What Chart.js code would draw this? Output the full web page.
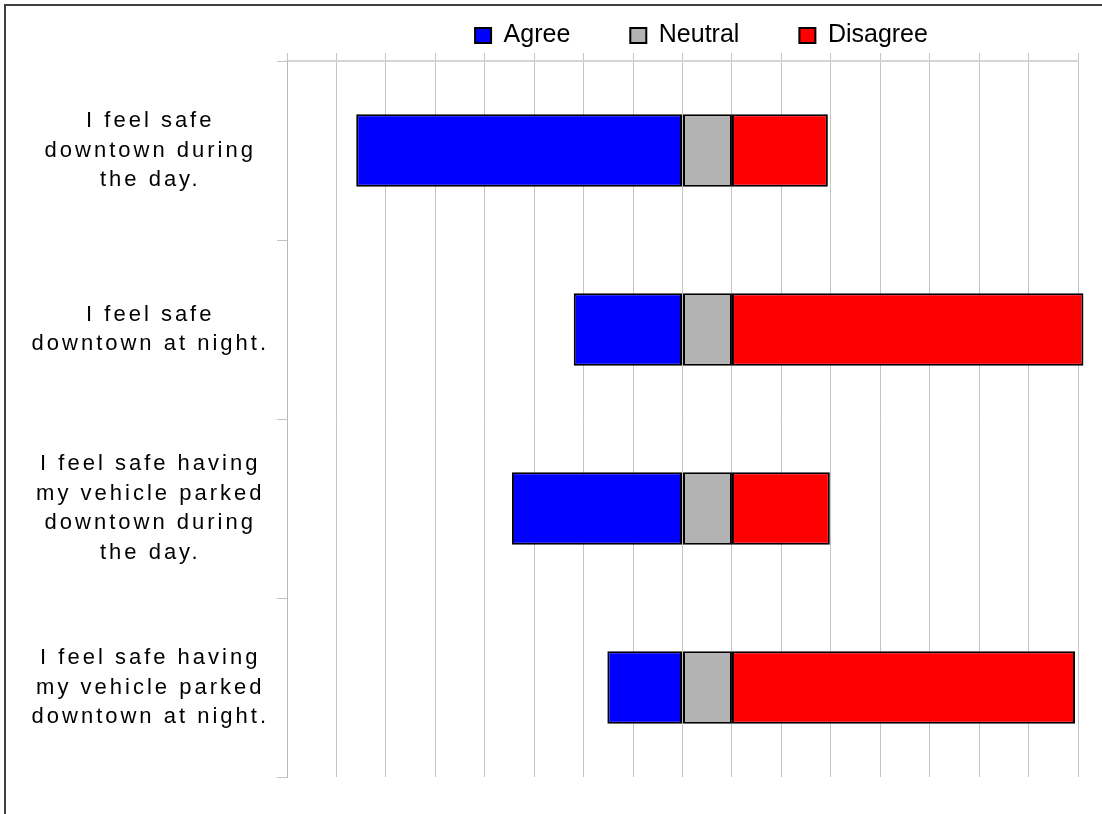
<!DOCTYPE html>
<html>
<head>
<meta charset="utf-8">
<script src="https://cdn.jsdelivr.net/npm/chart.js@4"></script>
<style>
    body { margin: 0; overflow: hidden; background: #fff; }
    .safety-box { position: relative; width: 1102px; height: 814px; }
</style>
</head>
<body>
<div class="safety-box">
    <canvas class="safety-chart"></canvas>
</div>
<script>
let questions = [
    ["I feel safe", "downtown during", "the day."],
    ["I feel safe", "downtown at night."],
    ["I feel safe having", "my vehicle parked", "downtown during", "the day."],
    ["I feel safe having", "my vehicle parked", "downtown at night."],
];

// agree runs left of zero, neutral and disagree stack to the right
let agree = [-66, -22, -34.5, -15.2];
let neutral = [10, 10, 10, 10];
let disagree = [19.4, 71.1, 19.8, 69.4];

let colors = ["#0000ff", "#b3b3b3", "#ff0000"];
let font = "'Liberation Sans', Arial, sans-serif";


// frame, legend nudge, and spaced lettering for the question labels
// (y tick labels sit on z 1 so they are drawn after the datasets)
let extras = {
    id: "extras",
    afterLayout(chart) {
        chart.legend.left += 19;
        chart.legend.right += 19;
    },
    beforeDraw(chart) {
        let ctx = chart.ctx;
        ctx.letterSpacing = "0px";
        ctx.save();
        ctx.strokeStyle = "#404040";
        ctx.lineWidth = 2;
        ctx.strokeRect(5, 5, 2000, 2000);
        ctx.restore();
    },
    afterDatasetsDraw(chart) {
        chart.ctx.letterSpacing = "3px";
    },
    afterDraw(chart) {
        chart.ctx.letterSpacing = "0px";
    },
};


let safetyData = {
    labels: questions,
    datasets: [
        { label: "Agree", data: agree, backgroundColor: colors[0] },
        { label: "Neutral", data: neutral, backgroundColor: colors[1] },
        { label: "Disagree", data: disagree, backgroundColor: colors[2] },
    ],
};

safetyData.datasets.forEach(d => {
    d.borderColor = "#000";
    d.borderWidth = 2;
    d.borderSkipped = false;
    d.barPercentage = 0.405;
    d.categoryPercentage = 1;
    d.clip = false;
});


let safetyOptions = {
    indexAxis: "y",
    responsive: true,
    maintainAspectRatio: false,
    animation: false,
    layout: {
        padding: { top: -37, right: 24, bottom: 37, left: 0 },
    },
    scales: {
        x: {
            position: "top",
            stacked: true,
            min: -80,
            max: 80,
            ticks: { display: false, stepSize: 10 },
            grid: { color: "#c4c4c4", tickLength: 8 },
            border: { color: "#d4d4d4", width: 2 },
            afterFit(scale) { scale.height = 8; },
        },
        y: {
            stacked: true,
            ticks: {
                z: 1,
                color: "#000",
                crossAlign: "center",
                padding: 35,
                font: { family: font, size: 22, lineHeight: 1.35 },
            },
            grid: { drawOnChartArea: false, tickLength: 10, color: "#c4c4c4" },
            border: { color: "#b8b8b8", width: 1 },
            afterFit(scale) {
                scale.width = 287;
                scale.paddingTop = 0;
                scale.paddingBottom = 0;
            },
        },
    },
    plugins: {
        tooltip: { enabled: false },
        legend: {
            position: "top",
            fullSize: false,
            maxHeight: 90,
            labels: {
                color: "#000",
                boxWidth: 16,
                boxHeight: 15,
                padding: 60,
                font: { family: font, size: 25 },
            },
        },
    },
};


let safetyChart = new Chart(
    document.querySelector(".safety-chart"), {
        type: "bar",
        data: safetyData,
        options: safetyOptions,
        plugins: [extras],
    }
);
</script>
</body>
</html>
